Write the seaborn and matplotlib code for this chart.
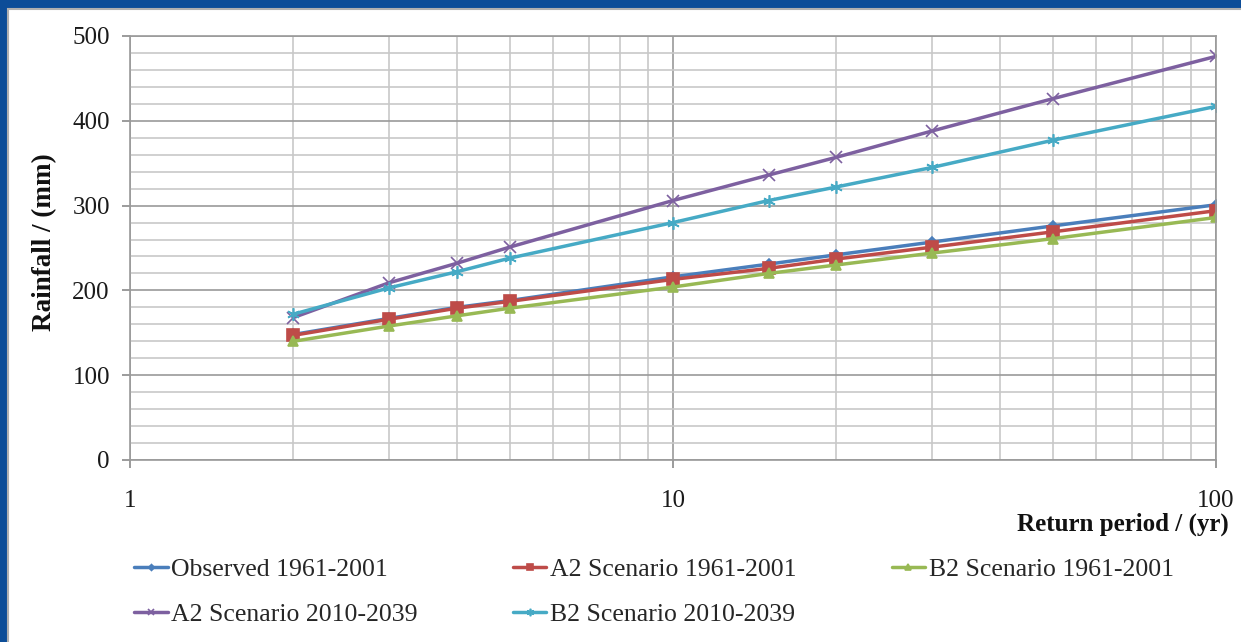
import numpy as np
import pandas as pd
import seaborn as sns
import matplotlib.pyplot as plt
from matplotlib.patches import Rectangle
from matplotlib.ticker import MultipleLocator, NullFormatter

# data
return_period = [2, 3, 4, 5, 10, 15, 20, 30, 50, 100]
observed_1961 = [148, 167, 180, 188, 216, 231, 242, 257, 276, 301]
a2_1961 = [147, 166, 179, 187, 213, 226, 237, 251, 269, 294]
b2_1961 = [140, 158, 170, 179, 204, 220, 230, 244, 261, 286]
a2_2010 = [168, 209, 232, 251, 306, 336, 357, 388, 426, 476]
b2_2010 = [172, 203, 222, 238, 280, 306, 322, 345, 377, 417]

series_names = ['Observed 1961-2001', 'A2 Scenario 1961-2001', 'B2 Scenario 1961-2001',
                'A2 Scenario 2010-2039', 'B2 Scenario 2010-2039']
series_values = [observed_1961, a2_1961, b2_1961, a2_2010, b2_2010]
colors = ['#4A7EBB', '#BE4B48', '#98B954', '#7D60A0', '#46AAC5']
markers = ['D', 's', '^', 'x', (6, 2, 0)]
msizes = [5, 8, 7, 8, 9]

sns.set_theme(style='white')
plt.rcParams['font.family'] = ['Liberation Serif', 'DejaVu Serif']

fig = plt.figure(figsize=(12.41, 6.42), dpi=100)
fig.patch.set_facecolor('#0c4d98')
# white slide panel
fig.patches.append(Rectangle((8 / 1241, -0.01), 1.0, 1 - 9 / 642 + 0.01, transform=fig.transFigure,
                             facecolor='white', edgecolor='#b0b0b0', linewidth=1.5, zorder=-10))

ax = fig.add_axes([130 / 1241, 1 - 460 / 642, (1216 - 130) / 1241, (460 - 36) / 642])
ax.set_facecolor('white')

for name, vals, c, m, ms in zip(series_names, series_values, colors, markers, msizes):
    df = pd.DataFrame({'period': return_period, 'rain': vals})
    sns.lineplot(data=df, x='period', y='rain', color=c, marker=m, markersize=ms,
                 markeredgecolor=c, markeredgewidth=1.2, linewidth=2.5, label=name, ax=ax)

ax.set_xscale('log')
ax.set_xlim(1, 100)
ax.set_ylim(0, 500)
ax.set_xticks([1, 10, 100])
ax.set_xticklabels(['1', '10', '100'])
ax.xaxis.set_minor_formatter(NullFormatter())
ax.yaxis.set_major_locator(MultipleLocator(100))
ax.yaxis.set_minor_locator(MultipleLocator(20))

ax.grid(which='minor', color='#c8c8c8', linewidth=1.2)
ax.grid(which='major', color='#9a9a9a', linewidth=1.2)
ax.set_axisbelow(True)
for s in ax.spines.values():
    s.set_color('#9a9a9a')
    s.set_linewidth(1.2)
ax.tick_params(axis='both', which='major', bottom=True, left=True, length=5.5, width=1.2,
               color='#8a8a8a', labelsize=18, labelcolor='#1a1a1a', direction='out')
ax.tick_params(axis='both', which='minor', bottom=False, left=False, length=0)
ax.tick_params(axis='x', pad=16)
ax.tick_params(axis='y', pad=9)

ax.set_xlabel('')
ax.set_ylabel('')
fig.text(45 / 1241, 1 - 242 / 642, 'Rainfall / (mm)', rotation=90, ha='center', va='center',
         fontsize=19.5, fontweight='bold', color='#111111')
fig.text(1229 / 1241, 1 - 524 / 642, 'Return period / (yr)', ha='right', va='center',
         fontsize=18, fontweight='bold', color='#111111')

handles, labels = ax.get_legend_handles_labels()
if ax.get_legend() is not None:
    ax.get_legend().remove()
order = [0, 3, 1, 4, 2]
fig.legend([handles[i] for i in order], [labels[i] for i in order], ncol=3,
           loc='upper left', bbox_to_anchor=(111 / 1241, 1 - 535 / 642), frameon=False,
           fontsize=18.5, handlelength=1.3, handletextpad=0.15, columnspacing=3.7,
           labelspacing=0.85, markerscale=0.6)

fig.savefig('out.png', dpi=100, facecolor=fig.get_facecolor())
